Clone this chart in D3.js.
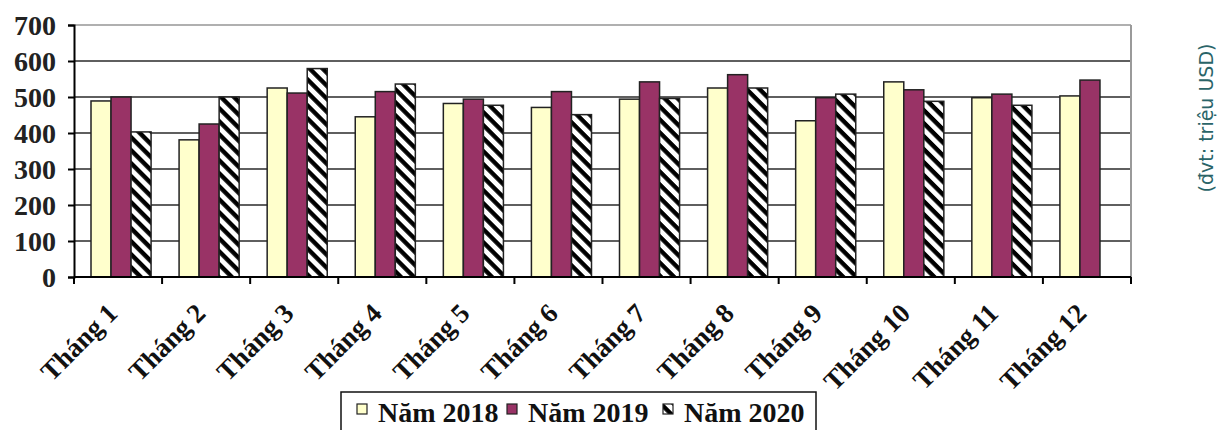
<!DOCTYPE html>
<meta charset="utf-8">
<style>
  body { margin: 0; background: #fff; }
  svg { display: block; }
</style>
<body>
<script src="https://d3js.org/d3.v7.min.js"></script>
<script>
// months on the x axis
var months = ["Tháng 1", "Tháng 2", "Tháng 3", "Tháng 4", "Tháng 5", "Tháng 6",
              "Tháng 7", "Tháng 8", "Tháng 9", "Tháng 10", "Tháng 11", "Tháng 12"];
var seriesNames = ["Năm 2018", "Năm 2019", "Năm 2020"];
// values (triệu USD)
var v2018 = [489, 381, 525, 445, 482, 471, 494, 525, 434, 542, 498, 503];
var v2019 = [500, 425, 511, 515, 494, 515, 542, 562, 498, 520, 508, 547];
var v2020 = [403, 500, 579, 536, 477, 451, 496, 525, 508, 488, 477, null];
var yTicks = [0, 100, 200, 300, 400, 500, 600, 700];

var W = 1217, H = 430;
var margin = {top: 25, right: 86, bottom: 153, left: 74};
var width = W - margin.left - margin.right,
    height = H - margin.top - margin.bottom;

var svg = d3.select("body").append("svg")
    .attr("width", W)
    .attr("height", H);

// hatch pattern for 2020
var defs = svg.append("defs");
var pat = defs.append("pattern")
    .attr("id", "hatch")
    .attr("patternUnits", "userSpaceOnUse")
    .attr("width", 9.2).attr("height", 9.2)
    .attr("patternTransform", "rotate(45)");
pat.append("rect").attr("width", 9.2).attr("height", 9.2).attr("fill", "#fff");
pat.append("rect").attr("width", 9.2).attr("height", 4.4).attr("fill", "#000");

var colors = ["#FFFFCC", "#993366", "url(#hatch)"];
var series = [v2018, v2019, v2020];

var g = svg.append("g")
    .attr("transform", "translate(" + margin.left + "," + margin.top + ")");

var x0 = d3.scaleBand().domain(months).range([0, width]).paddingInner(0).paddingOuter(0);
var x1 = d3.scaleBand().domain(seriesNames).range([17, x0.bandwidth() - 11]).padding(0);
var y = d3.scaleLinear().domain([0, 700]).range([height, 0]);

// gridlines
g.selectAll(".grid")
  .data(yTicks.filter(function(d) { return d > 0 && d < 700; }))
  .enter().append("line")
    .attr("x1", 0).attr("x2", width)
    .attr("y1", function(d) { return y(d); })
    .attr("y2", function(d) { return y(d); })
    .attr("stroke", "#2a2a2a")
    .attr("stroke-width", 1.6);

// plot border (top and right)
g.append("line").attr("x1", 0).attr("x2", width).attr("y1", y(700)).attr("y2", y(700))
  .attr("stroke", "#b0b0b0").attr("stroke-width", 2);
g.append("line").attr("x1", width).attr("x2", width).attr("y1", y(700)).attr("y2", height)
  .attr("stroke", "#9a9a9a").attr("stroke-width", 2);

// bars
series.forEach(function(vals, si) {
  g.append("g").selectAll("rect")
    .data(vals.map(function(v, i) { return {m: months[i], v: v}; })
              .filter(function(d) { return d.v != null; }))
    .enter().append("rect")
      .attr("x", function(d) { return x0(d.m) + x1(seriesNames[si]); })
      .attr("y", function(d) { return y(d.v); })
      .attr("width", x1.bandwidth())
      .attr("height", function(d) { return height - y(d.v); })
      .attr("fill", colors[si])
      .attr("stroke", "#222")
      .attr("stroke-width", 1.5);
});

// y axis
var yAxis = g.append("g")
    .call(d3.axisLeft(y).tickValues(yTicks).tickSize(6).tickPadding(12));
yAxis.select(".domain").attr("stroke", "#000").attr("stroke-width", 2);
yAxis.selectAll(".tick line").attr("stroke", "#000").attr("stroke-width", 2);
yAxis.selectAll("text")
    .attr("font-family", "'Liberation Serif', 'Times New Roman', serif")
    .attr("font-weight", "bold")
    .attr("font-size", "28px")
    .attr("fill", "#222")
    .attr("dy", "0.35em");

// x axis: ticks at category boundaries
var xAxis = g.append("g").attr("transform", "translate(0," + height + ")");
xAxis.append("line").attr("x1", 0).attr("x2", width)
  .attr("stroke", "#000").attr("stroke-width", 2);
xAxis.selectAll(".xt")
  .data(d3.range(months.length + 1))
  .enter().append("line")
    .attr("x1", function(i) { return i * x0.step(); })
    .attr("x2", function(i) { return i * x0.step(); })
    .attr("y1", 0).attr("y2", 7)
    .attr("stroke", "#000").attr("stroke-width", 2);

xAxis.selectAll(".xl")
  .data(months)
  .enter().append("text")
    .attr("transform", function(d) {
      return "translate(" + (x0(d) + x0.bandwidth() / 2 + 1) + ",38) rotate(-45)";
    })
    .attr("text-anchor", "end")
    .attr("font-family", "'Liberation Serif', 'Times New Roman', serif")
    .attr("font-weight", "bold")
    .attr("font-size", "27px")
    .attr("fill", "#111")
    .text(function(d) { return d; });

// legend
var lg = svg.append("g");
lg.append("rect")
  .attr("x", 341).attr("y", 392).attr("width", 475).attr("height", 50)
  .attr("fill", "#fff").attr("stroke", "#111").attr("stroke-width", 1.5);
var legX = [357, 507, 663];
seriesNames.forEach(function(name, i) {
  lg.append("rect")
    .attr("x", legX[i]).attr("y", 404).attr("width", 10).attr("height", 10)
    .attr("fill", i == 2 ? "url(#hatch)" : colors[i])
    .attr("stroke", "#222").attr("stroke-width", 1.2);
  lg.append("text")
    .attr("x", legX[i] + 21).attr("y", 422)
    .attr("font-family", "'Liberation Serif', 'Times New Roman', serif")
    .attr("font-weight", "bold")
    .attr("font-size", "28px")
    .attr("fill", "#111")
    .text(name);
});

// unit note
svg.append("text")
  .attr("transform", "translate(1213,118) rotate(-90)")
  .attr("text-anchor", "middle")
  .attr("font-family", "'DejaVu Sans', sans-serif")
  .attr("font-size", "19px")
  .attr("fill", "#2a6468")
  .text("(đvt: triệu USD)");
</script>
</body>
